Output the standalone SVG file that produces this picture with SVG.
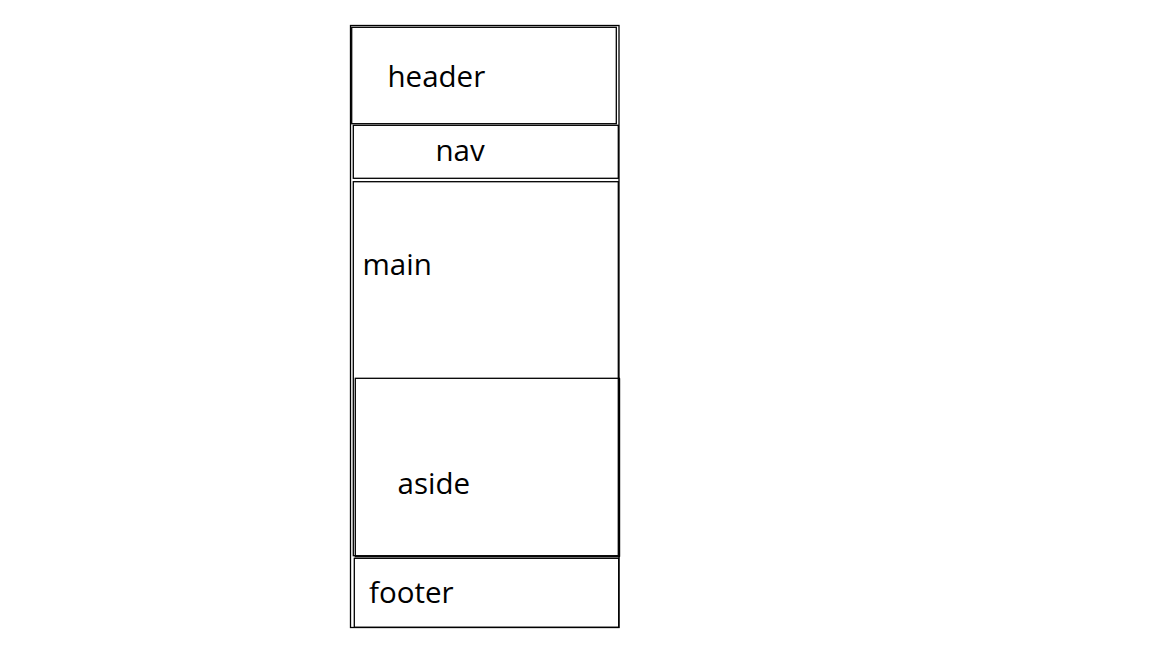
<svg xmlns="http://www.w3.org/2000/svg" width="1152" height="648" viewBox="0 0 1152 648">
<style>
.box{fill:none;stroke:#000;stroke-width:1.3}
.lbl{font-family:"Open Sans","Noto Sans",sans-serif;font-size:29.5px;fill:#000}
</style>
<rect width="1152" height="648" fill="#fff"/>
<g id="page"><rect class="box" x="350.5" y="25.5" width="268.5" height="602"/></g>
<g id="header"><rect class="box" x="351.7" y="27.3" width="264.6" height="96.4"/><text class="lbl" x="387.5" y="87">header</text></g>
<g id="nav"><rect class="box" x="353.3" y="125.3" width="265" height="53"/><text class="lbl" x="435.5" y="161">nav</text></g>
<g id="main"><rect class="box" x="353.3" y="181.7" width="265" height="374"/><text class="lbl" x="362.5" y="275">main</text></g>
<g id="aside"><rect class="box" x="355.3" y="378.3" width="264" height="178.4"/><line x1="619.6" y1="378.3" x2="619.6" y2="556.7" stroke="#000" stroke-width="1.2"/><text class="lbl" x="397.5" y="494">aside</text></g>
<g id="footer"><rect class="box" x="354.3" y="558.3" width="264.4" height="69"/><text class="lbl" x="369" y="603">footer</text></g>
<g id="connectors"></g>
</svg>
